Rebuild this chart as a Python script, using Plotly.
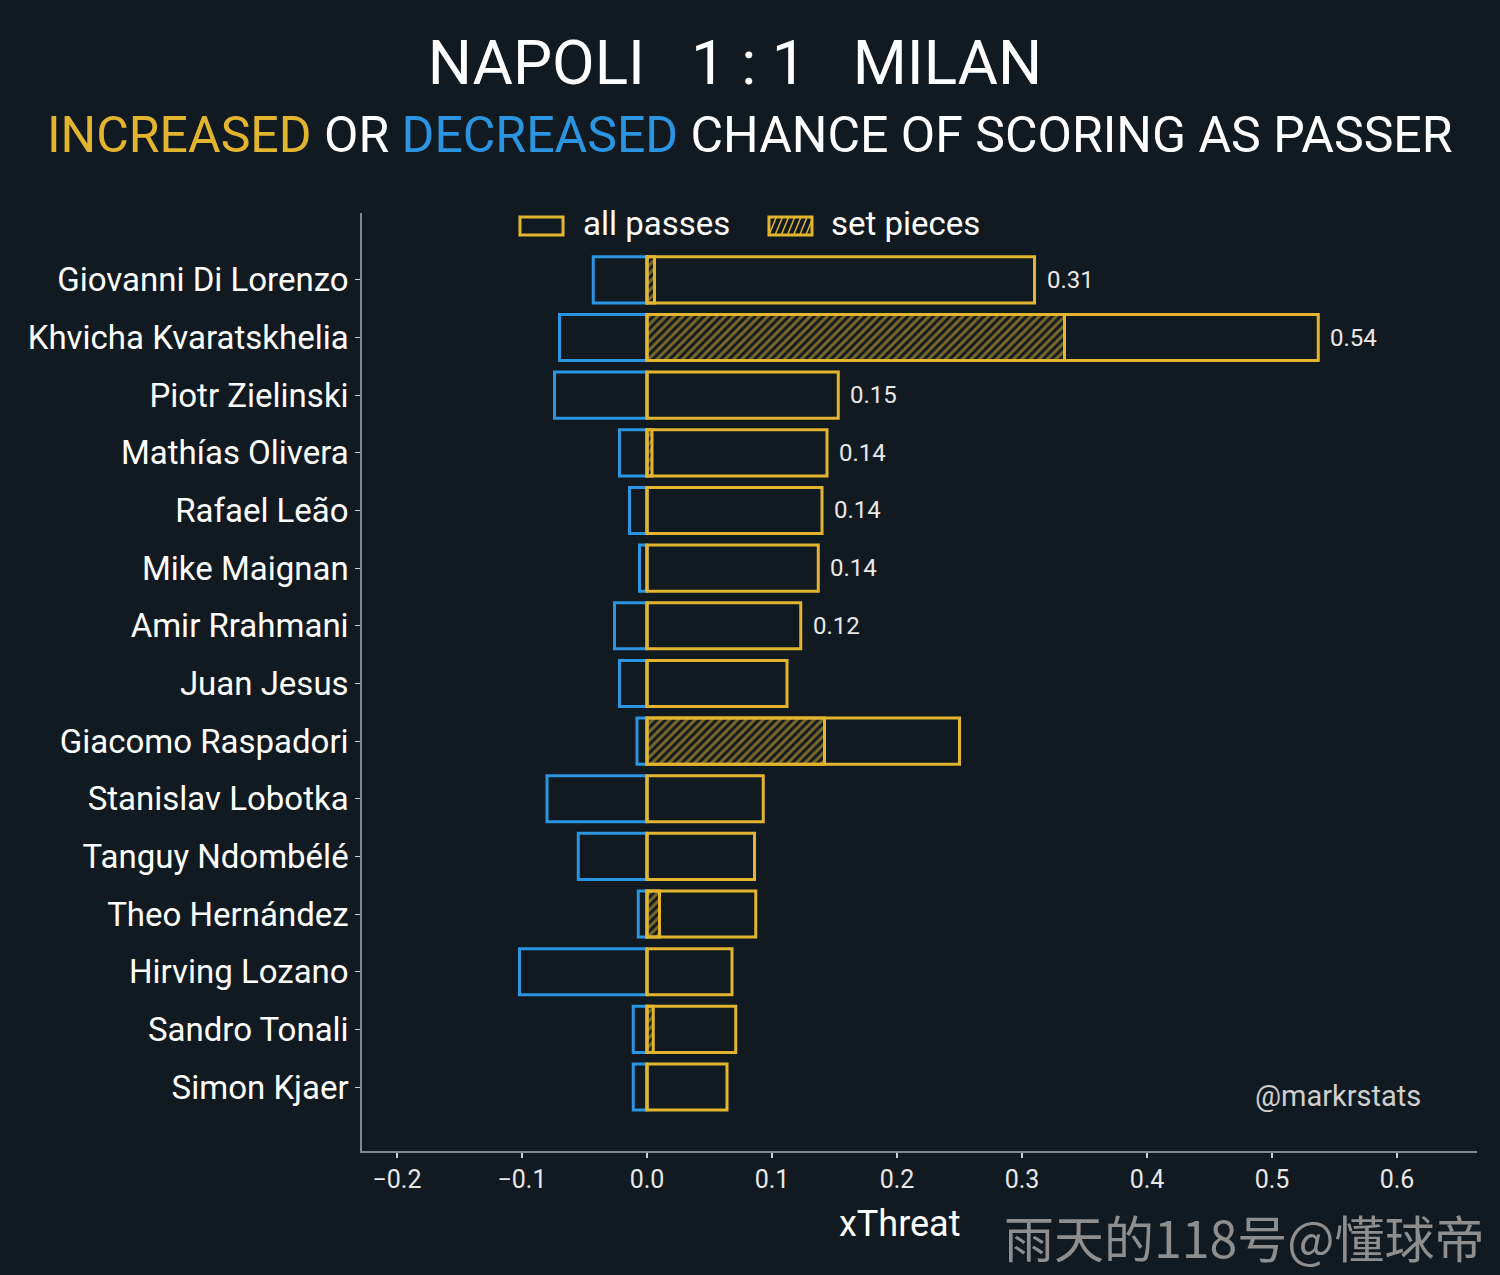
import plotly.graph_objects as go

# ========== 数据 ==========
players = ['Giovanni Di Lorenzo', 'Khvicha Kvaratskhelia', 'Piotr Zielinski', 'Mathías Olivera',
           'Rafael Leão', 'Mike Maignan', 'Amir Rrahmani', 'Juan Jesus', 'Giacomo Raspadori',
           'Stanislav Lobotka', 'Tanguy Ndombélé', 'Theo Hernández', 'Hirving Lozano',
           'Sandro Tonali', 'Simon Kjaer']
decreased = [-0.043, -0.070, -0.074, -0.022, -0.014, -0.006, -0.026, -0.022, -0.008,
             -0.080, -0.055, -0.007, -0.102, -0.011, -0.011]
all_passes = [0.310, 0.537, 0.153, 0.144, 0.140, 0.137, 0.123, 0.112, 0.250,
              0.093, 0.086, 0.087, 0.068, 0.071, 0.064]
set_pieces = [0.006, 0.334, 0.0, 0.004, 0.0, 0.0, 0.0, 0.0, 0.142,
              0.0, 0.0, 0.010, 0.0, 0.005, 0.0]
label_players = players[:7]
label_values = all_passes[:7]
x_ticks = [-0.2, -0.1, 0.0, 0.1, 0.2, 0.3, 0.4, 0.5, 0.6]

# ========== 样式 ==========
BG = '#111a20'
GOLD = '#e3b52f'
BLUE = '#2b95e2'
CLEAR = 'rgba(0,0,0,0)'
FONT = 'Roboto'

fig = go.Figure()
fig.add_trace(go.Bar(y=players, x=decreased, orientation='h', width=0.8, showlegend=False,
                     marker=dict(color=CLEAR, line=dict(color=BLUE, width=3))))
fig.add_trace(go.Bar(y=players, x=set_pieces, orientation='h', width=0.8, showlegend=False,
                     marker=dict(color=CLEAR, line=dict(color=GOLD, width=3),
                                 pattern=dict(shape='/', fgcolor=GOLD, bgcolor=CLEAR, size=6, solidity=0.5))))
fig.add_trace(go.Bar(y=players, x=all_passes, orientation='h', width=0.8, showlegend=False,
                     marker=dict(color=CLEAR, line=dict(color=GOLD, width=3))))

for p, v in zip(label_players, label_values):
    fig.add_annotation(x=v, y=p, text=f'{v:.2f}', showarrow=False, xanchor='left', xshift=10,
                       font=dict(family=FONT, size=24, color='#e8e8e8'))

# ---- 手绘图例（paper坐标） ----
def add_swatch(x0, x1, y0, y1, hatch=False):
    fig.add_shape(type='rect', xref='paper', yref='paper', x0=x0, x1=x1, y0=y0, y1=y1,
                  line=dict(color=GOLD, width=3), fillcolor=CLEAR)
    if hatch:
        n = 7
        dx = (x1 - x0) / n
        for i in range(n + 1):
            xa = x0 + (i - 1) * dx
            xb = xa + dx * 1.2
            fig.add_shape(type='line', xref='paper', yref='paper',
                          x0=max(xa, x0), y0=y0 + (max(xa, x0) - xa) / (xb - xa) * (y1 - y0),
                          x1=min(xb, x1), y1=y0 + (min(xb, x1) - xa) / (xb - xa) * (y1 - y0),
                          line=dict(color=GOLD, width=1.5))

add_swatch(0.1417, 0.1803, 0.9765, 0.9957)
add_swatch(0.365, 0.4036, 0.9765, 0.9957, hatch=True)
fig.add_annotation(x=0.1964, y=0.9883, xref='paper', yref='paper', xanchor='left', yanchor='middle',
                   text='all passes', showarrow=False, font=dict(family=FONT, size=33, color='white'))
fig.add_annotation(x=0.4188, y=0.9883, xref='paper', yref='paper', xanchor='left', yanchor='middle',
                   text='set pieces', showarrow=False, font=dict(family=FONT, size=33, color='white'))

# ---- 标题与说明 ----
fig.update_layout(
    title=dict(text='NAPOLI   1 : 1   MILAN', x=0.49, xanchor='center', y=0.951, yanchor='middle',
               font=dict(family=FONT, size=62, color='white')),
)
fig.add_annotation(
    x=0.348, y=1.083, xref='paper', yref='paper', yanchor='middle', xanchor='center', showarrow=False,
    text=f"<span style='color:{GOLD}'>INCREASED</span> OR <span style='color:{BLUE}'>DECREASED</span> CHANCE OF SCORING AS PASSER",
    font=dict(family=FONT, size=50, color='white'))
fig.add_annotation(x=0.952, y=0.0586, xref='paper', yref='paper', xanchor='right', yanchor='middle',
                   text='@markrstats', showarrow=False, font=dict(family=FONT, size=29, color='#cfcfcf'))
fig.add_annotation(x=0.4825, y=-0.078, xref='paper', yref='paper', xanchor='center', yanchor='middle',
                   text='xThreat', showarrow=False, font=dict(family=FONT, size=36, color='white'))
fig.add_annotation(x=1.009, y=-0.0905, xref='paper', yref='paper', xanchor='right', yanchor='middle',
                   text='雨天的118号@懂球帝', showarrow=False,
                   font=dict(family='Noto Sans CJK SC', size=50, color='#8e8e8e'))

fig.update_layout(
    width=1500, height=1275,
    paper_bgcolor=BG, plot_bgcolor=BG,
    barmode='overlay', bargap=0.2, showlegend=False,
    margin=dict(l=362, r=23, t=213, b=124),
    font=dict(family=FONT, color='white'),
    xaxis=dict(range=[-0.228, 0.664], tickvals=x_ticks, ticktext=[f'{t:.1f}'.replace('-', '−') for t in x_ticks],
               showgrid=False, zeroline=False, showline=True, linecolor='#7d8790', linewidth=1.5,
               ticks='outside', ticklen=5, tickcolor='#cfcfcf', tickwidth=1.5,
               tickfont=dict(family=FONT, size=25, color='#e8e8e8')),
    yaxis=dict(range=[15.11, -1.16], showgrid=False, zeroline=False, showline=True,
               linecolor='#7d8790', linewidth=1.5, ticks='outside', ticklen=5, tickcolor='#cfcfcf',
               tickfont=dict(family=FONT, size=33, color='white')),
)

fig.write_html('out.html', config={'displayModeBar': False},
               post_script="document.body.style.margin='0';")
